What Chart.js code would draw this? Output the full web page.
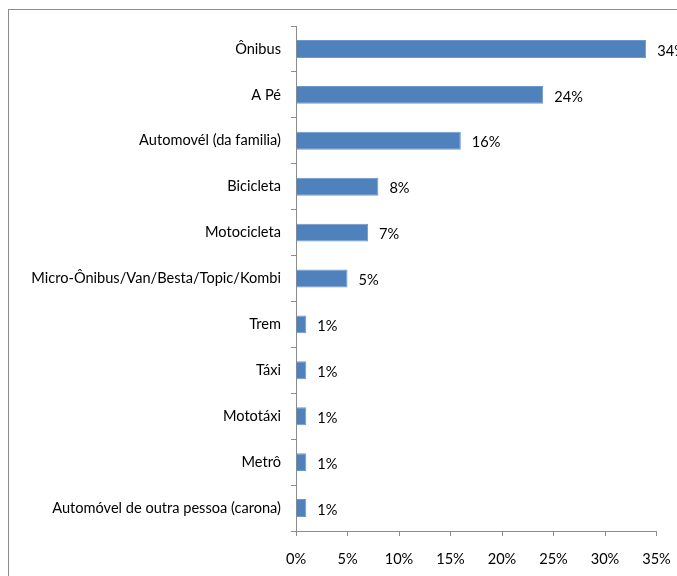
<!DOCTYPE html>
<html>
<head>
<meta charset="utf-8">
<script src="https://cdn.jsdelivr.net/npm/chart.js@4/dist/chart.umd.min.js"></script>
<style>
  html, body { margin: 0; padding: 0; background: #fff; }
  #wrap { width: 677px; height: 576px; position: relative; }
</style>
</head>
<body>
<div id="wrap"><canvas id="grafico"></canvas></div>
<script>
// meios de transporte usados (percentual)
var meios = ['Ônibus', 'A Pé', 'Automovél (da familia)', 'Bicicleta', 'Motocicleta',
  'Micro-Ônibus/Van/Besta/Topic/Kombi', 'Trem', 'Táxi', 'Mototáxi', 'Metrô',
  'Automóvel de outra pessoa (carona)'];
var percentual = [34, 24, 16, 8, 7, 5, 1, 1, 1, 1, 1];
var ticksX = [0, 5, 10, 15, 20, 25, 30, 35];

var fonte = 'Lato, "Liberation Sans", sans-serif';
var tamanho = 14.6;

// moldura cinza em volta do grafico
var moldura = {
  id: 'moldura',
  beforeDraw: function(chart) {
    var ctx = chart.ctx;
    ctx.save();
    ctx.strokeStyle = '#8c8c8c';
    ctx.lineWidth = 1;
    ctx.strokeRect(8.5, 9.5, 800, 800);
    ctx.restore();
  }
};

// rotulo com o valor na ponta de cada barra
var rotulos = {
  id: 'rotulos',
  afterDatasetsDraw: function(chart) {
    var ctx = chart.ctx;
    var meta = chart.getDatasetMeta(0);
    ctx.save();
    ctx.font = tamanho + 'px ' + fonte;
    ctx.fillStyle = '#000';
    ctx.textBaseline = 'middle';
    ctx.textAlign = 'left';
    meta.data.forEach(function(bar, i) {
      ctx.fillText(percentual[i] + '%', bar.x + 11, bar.y + 2);
    });
    ctx.restore();
  }
};

var grafico = new Chart(document.getElementById('grafico'), {
  type: 'bar',
  data: {
    labels: meios,
    datasets: [{
      data: percentual,
      backgroundColor: '#4F81BD',
      borderColor: '#6E98CB',
      borderWidth: 1,
      barPercentage: 0.39,
      categoryPercentage: 1
    }]
  },
  options: {
    indexAxis: 'y',
    responsive: true,
    maintainAspectRatio: false,
    animation: false,
    layout: { padding: { left: 0, top: 26, right: 20.5, bottom: 0 } },
    plugins: {
      legend: { display: false },
      tooltip: { enabled: false }
    },
    scales: {
      x: {
        min: 0,
        max: 35,
        afterBuildTicks: function(scale) {
          scale.ticks = ticksX.map(function(v) { return { value: v }; });
        },
        afterFit: function(scale) {
          scale.height = 45;
          scale.paddingLeft = 0;
          scale.paddingRight = 0;
        },
        grid: { drawOnChartArea: false, tickLength: 5, color: '#8c8c8c' },
        border: { color: '#8c8c8c', dash: [4, 3] },
        ticks: {
          padding: 15,
          color: '#000',
          font: { family: fonte, size: tamanho },
          callback: function(v) { return v + '%'; }
        }
      },
      y: {
        afterFit: function(scale) { scale.width = 296; },
        grid: { drawOnChartArea: false, offset: true, tickLength: 5, color: '#8c8c8c' },
        border: { color: '#8c8c8c' },
        ticks: {
          padding: 10,
          color: '#000',
          font: { family: fonte, size: tamanho }
        }
      }
    }
  },
  plugins: [moldura, rotulos]
});
</script>
</body>
</html>
